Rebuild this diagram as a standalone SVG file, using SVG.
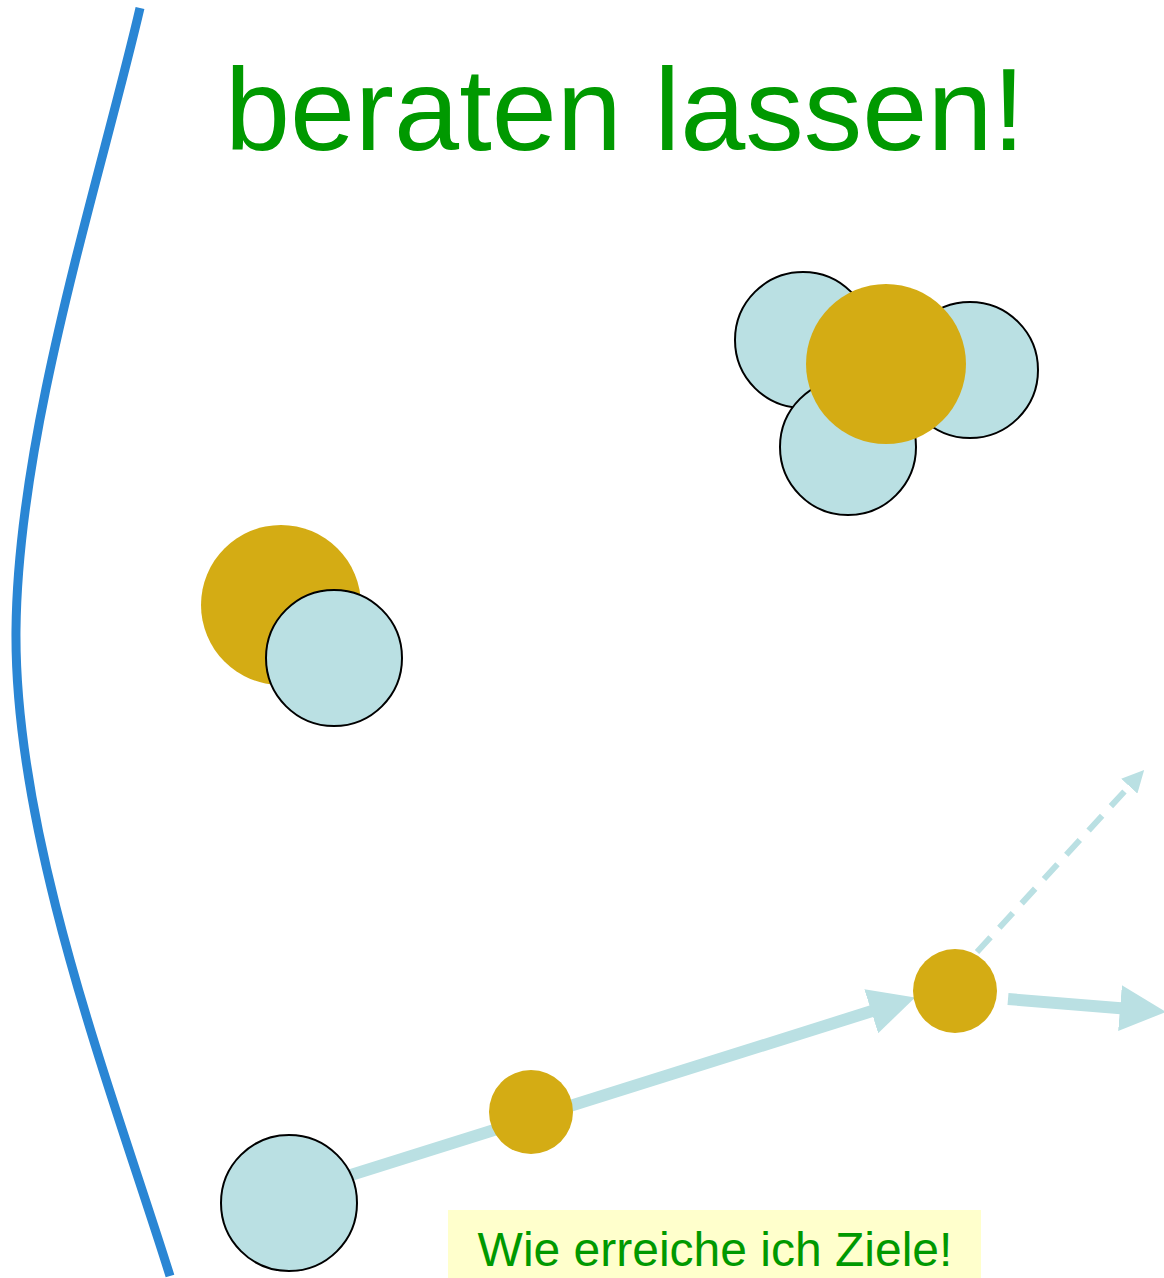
<svg xmlns="http://www.w3.org/2000/svg" width="1164" height="1278" viewBox="0 0 1164 1278">
<style>
.lb{fill:#bae0e3;stroke:#000;stroke-width:2}
.gd{fill:#d4ac14}
.con{stroke:#bae0e3;fill:none}
.t{font-family:"Liberation Sans",Arial,sans-serif;fill:#009900}
</style>
<defs>
<marker id="big" viewBox="0 0 46 46" refX="10" refY="23" markerWidth="46" markerHeight="46" markerUnits="userSpaceOnUse" orient="auto">
<path d="M0,0 L46,23 L0,46 Z" fill="#bae0e3"/>
</marker>
<marker id="small" viewBox="0 0 22 22" refX="7" refY="11" markerWidth="22" markerHeight="22" markerUnits="userSpaceOnUse" orient="auto">
<path d="M0,0 L22,11 L0,22 Z" fill="#bae0e3"/>
</marker>
</defs>
<rect width="1164" height="1278" fill="#fff"/>
<path d="M140,8 C100,180 18,430 16,630 C14,840 115,1100 170,1276" fill="none" stroke="#2a86d4" stroke-width="9"/>
<text class="t" x="625" y="150" font-size="117" text-anchor="middle">beraten lassen!</text>
<g id="connectors">
<line class="con" x1="300" y1="1191" x2="880.8" y2="1008.3" stroke-width="12" marker-end="url(#big)"/>
<line class="con" x1="1008" y1="999" x2="1130" y2="1009" stroke-width="12" marker-end="url(#big)"/>
<line class="con" x1="977" y1="952" x2="1134" y2="781" stroke-width="6" stroke-dasharray="20,13" marker-end="url(#small)"/>
</g>
<g id="cluster">
<circle class="lb" cx="803" cy="340" r="68"/>
<circle class="lb" cx="970" cy="370" r="68"/>
<circle class="lb" cx="848" cy="447" r="68"/>
<circle class="gd" cx="886" cy="364" r="80"/>
</g>
<g id="pair">
<circle class="gd" cx="281" cy="605" r="80"/>
<circle class="lb" cx="334" cy="658" r="68"/>
</g>
<g id="start"><circle class="lb" cx="289" cy="1203" r="68"/></g>
<g id="mid"><circle class="gd" cx="531" cy="1112" r="42"/></g>
<g id="branch"><circle class="gd" cx="955" cy="991" r="42"/></g>
<g id="label">
<rect x="448" y="1210" width="533" height="68" fill="#ffffcc"/>
<text class="t" x="715" y="1266" font-size="48" text-anchor="middle">Wie erreiche ich Ziele!</text>
</g>
</svg>
